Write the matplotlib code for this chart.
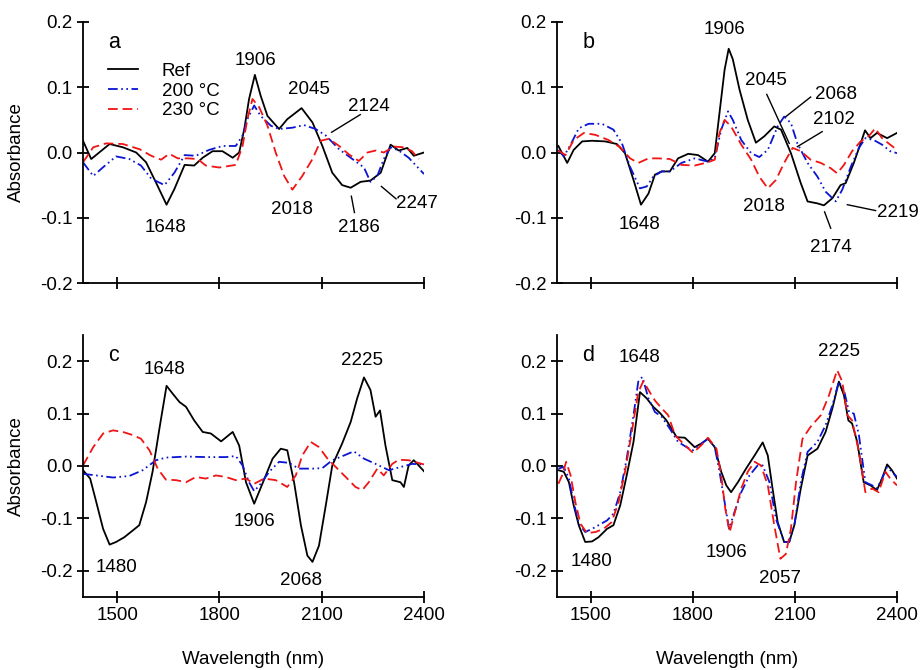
import matplotlib
matplotlib.use('Agg')
import matplotlib.pyplot as plt
from matplotlib.ticker import FormatStrFormatter

plt.rcParams['font.family'] = ['Liberation Sans', 'DejaVu Sans']
plt.rcParams['font.size'] = 13.5
plt.rcParams['lines.scale_dashes'] = False
plt.rcParams['lines.solid_joinstyle'] = 'round'
plt.rcParams['lines.dash_joinstyle'] = 'round'

labels = ['Ref', '200 °C', '230 °C']

# panel a
a_ref_x = [1400, 1424, 1478, 1517, 1556, 1585, 1614, 1645, 1668, 1698, 1726, 1751, 1780, 1809, 1839, 1858, 1873, 1887, 1904,
           1921, 1941, 1975, 1999, 2041, 2073, 2102, 2131, 2160, 2185, 2214, 2243, 2273, 2302, 2326, 2351, 2370, 2400]
a_ref_y = [0.018, -0.010, 0.013, 0.008, 0.0, -0.015, -0.046, -0.080, -0.056, -0.019, -0.020, -0.008, 0.002, 0.002, -0.008,
           0.0, 0.036, 0.082, 0.119, 0.087, 0.056, 0.036, 0.051, 0.068, 0.046, 0.010, -0.031, -0.050, -0.054, -0.045,
           -0.043, -0.031, 0.012, 0.003, 0.007, -0.005, 0.0]
a_200_x = [1400, 1430, 1458, 1497, 1536, 1570, 1600, 1639, 1668, 1698, 1731, 1770, 1809, 1848, 1868, 1882, 1902, 1921, 1951,
           1975, 2014, 2048, 2082, 2112, 2151, 2190, 2224, 2243, 2263, 2282, 2302, 2326, 2355, 2400]
a_200_y = [-0.015, -0.036, -0.023, -0.006, -0.010, -0.020, -0.040, -0.050, -0.031, -0.004, -0.005, 0.004, 0.010, 0.010,
           0.026, 0.051, 0.072, 0.056, 0.041, 0.036, 0.038, 0.042, 0.036, 0.026, 0.005, -0.010, -0.023, -0.045, -0.036,
           -0.010, 0.008, 0.003, -0.008, -0.033]
a_230_x = [1400, 1430, 1468, 1517, 1566, 1600, 1629, 1653, 1678, 1707, 1736, 1760, 1799, 1848, 1868, 1882, 1897, 1917, 1941,
           1965, 1990, 2014, 2043, 2073, 2097, 2121, 2151, 2180, 2209, 2234, 2258, 2282, 2312, 2341, 2365, 2385]
a_230_y = [-0.015, 0.008, 0.014, 0.013, 0.005, -0.005, -0.011, -0.002, -0.009, -0.009, -0.010, -0.020, -0.023, -0.019,
           0.010, 0.051, 0.082, 0.069, 0.041, 0.0, -0.036, -0.057, -0.036, -0.010, 0.018, 0.021, 0.010, -0.003, -0.013,
           0.0, 0.003, 0.0, 0.009, 0.008, 0.002, -0.010]

# panel b
b_ref_x = [1404, 1415, 1430, 1449, 1474, 1503, 1542, 1576, 1600, 1625, 1647, 1669, 1688, 1708, 1732, 1756, 1786, 1815, 1844,
           1864, 1878, 1893, 1905, 1917, 1937, 1961, 1985, 2010, 2039, 2059, 2088, 2117, 2137, 2166, 2185, 2210, 2234,
           2249, 2273, 2293, 2306, 2322, 2341, 2371, 2400]
b_ref_y = [0.010, -0.001, -0.016, 0.004, 0.017, 0.018, 0.017, 0.013, -0.001, -0.042, -0.080, -0.063, -0.034, -0.029,
           -0.029, -0.009, -0.002, -0.004, -0.014, -0.001, 0.061, 0.127, 0.159, 0.143, 0.096, 0.050, 0.015, 0.025, 0.040,
           0.035, -0.001, -0.047, -0.075, -0.078, -0.081, -0.070, -0.050, -0.047, -0.016, 0.014, 0.034, 0.022, 0.030,
           0.022, 0.030]
b_200_x = [1404, 1420, 1440, 1464, 1493, 1532, 1566, 1591, 1615, 1644, 1664, 1683, 1708, 1732, 1766, 1805, 1844, 1864, 1883,
           1903, 1917, 1942, 1971, 1995, 2020, 2049, 2068, 2088, 2107, 2137, 2166, 2190, 2220, 2239, 2264, 2288, 2307,
           2332, 2356, 2380, 2400]
b_200_y = [0.004, -0.006, 0.012, 0.037, 0.044, 0.044, 0.035, 0.014, -0.022, -0.055, -0.052, -0.037, -0.029, -0.029,
           -0.016, -0.009, -0.014, -0.009, 0.035, 0.063, 0.050, 0.019, -0.001, -0.007, 0.004, 0.040, 0.055, 0.045, 0.014,
           -0.016, -0.037, -0.060, -0.075, -0.057, -0.022, 0.007, 0.022, 0.019, 0.012, 0.002, -0.001]
b_230_x = [1404, 1425, 1449, 1479, 1513, 1552, 1586, 1615, 1639, 1669, 1698, 1732, 1766, 1805, 1844, 1864, 1878, 1893, 1912,
           1942, 1971, 1995, 2020, 2044, 2068, 2093, 2117, 2146, 2176, 2205, 2224, 2244, 2268, 2293, 2317, 2336, 2356,
           2380, 2400]
b_230_y = [0.003, -0.004, 0.019, 0.030, 0.027, 0.019, 0.008, -0.009, -0.016, -0.009, -0.009, -0.010, -0.019, -0.020,
           -0.015, -0.011, 0.030, 0.050, 0.040, 0.012, -0.011, -0.037, -0.055, -0.042, -0.016, 0.007, 0.002, -0.011,
           -0.016, -0.024, -0.032, -0.019, 0.002, 0.017, 0.025, 0.037, 0.022, 0.012, 0.004]

# panel c
c_ref_x = [1400, 1421, 1439, 1459, 1478, 1497, 1521, 1546, 1565, 1585, 1604, 1624, 1645, 1663, 1683, 1702, 1726, 1751, 1775,
           1805, 1839, 1858, 1878, 1902, 1926, 1956, 1980, 1999, 2019, 2039, 2058, 2073, 2092, 2112, 2131, 2160, 2185,
           2204, 2224, 2243, 2258, 2271, 2287, 2307, 2331, 2341, 2355, 2370, 2400]
c_ref_y = [-0.008, -0.024, -0.069, -0.120, -0.150, -0.145, -0.136, -0.123, -0.113, -0.069, -0.011, 0.071, 0.153, 0.138,
           0.122, 0.113, 0.087, 0.065, 0.062, 0.047, 0.065, 0.039, -0.031, -0.072, -0.034, 0.014, 0.033, 0.030, -0.031,
           -0.113, -0.171, -0.183, -0.152, -0.075, 0.001, 0.043, 0.084, 0.129, 0.169, 0.145, 0.094, 0.106, 0.039, -0.027,
           -0.031, -0.040, 0.001, 0.011, -0.010]
c_200_x = [1400, 1439, 1488, 1536, 1575, 1614, 1643, 1702, 1760, 1819, 1848, 1868, 1887, 1902, 1921, 1946, 1975, 2004, 2033,
           2073, 2102, 2131, 2165, 2194, 2224, 2258, 2297, 2331, 2365, 2400]
c_200_y = [-0.015, -0.018, -0.022, -0.019, -0.008, 0.011, 0.016, 0.018, 0.017, 0.017, 0.019, 0.001, -0.031, -0.048,
           -0.034, -0.011, 0.008, 0.006, -0.005, -0.005, -0.004, 0.011, 0.020, 0.028, 0.014, 0.004, -0.008, -0.002, 0.004,
           0.003]
c_230_x = [1400, 1430, 1459, 1488, 1517, 1546, 1570, 1595, 1619, 1643, 1673, 1702, 1731, 1760, 1790, 1819, 1848, 1878, 1902,
           1931, 1965, 1999, 2024, 2043, 2068, 2092, 2117, 2146, 2175, 2199, 2219, 2238, 2263, 2282, 2307, 2326, 2355,
           2400]
c_230_y = [0.001, 0.036, 0.062, 0.068, 0.065, 0.059, 0.052, 0.030, -0.005, -0.026, -0.027, -0.031, -0.021, -0.024, -0.018,
           -0.021, -0.027, -0.024, -0.034, -0.024, -0.027, -0.040, -0.018, 0.020, 0.046, 0.036, 0.014, -0.005, -0.024,
           -0.040, -0.046, -0.031, -0.005, -0.018, 0.004, 0.012, 0.011, 0.003]

# panel d
d_ref_x = [1404, 1420, 1435, 1449, 1464, 1483, 1503, 1522, 1547, 1566, 1586, 1605, 1625, 1644, 1664, 1683, 1703, 1722, 1752,
           1776, 1805, 1825, 1844, 1864, 1883, 1898, 1912, 1932, 1956, 1981, 2005, 2020, 2034, 2049, 2068, 2083, 2098,
           2117, 2137, 2166, 2190, 2210, 2229, 2244, 2257, 2268, 2283, 2302, 2322, 2341, 2356, 2371, 2385, 2400]
d_ref_y = [-0.008, -0.011, -0.031, -0.075, -0.113, -0.145, -0.144, -0.136, -0.120, -0.113, -0.075, -0.018, 0.046, 0.141,
           0.129, 0.113, 0.101, 0.087, 0.055, 0.054, 0.036, 0.043, 0.052, 0.036, -0.011, -0.037, -0.050, -0.031, -0.005,
           0.020, 0.045, 0.020, -0.043, -0.107, -0.145, -0.145, -0.113, -0.043, 0.020, 0.033, 0.065, 0.110, 0.161, 0.135,
           0.087, 0.081, 0.046, -0.031, -0.037, -0.046, -0.024, 0.003, -0.008, -0.024]
d_200_x = [1404, 1420, 1435, 1449, 1464, 1483, 1503, 1522, 1547, 1566, 1586, 1605, 1625, 1639, 1651, 1669, 1688, 1708, 1732,
           1756, 1781, 1800, 1825, 1844, 1864, 1878, 1893, 1906, 1922, 1942, 1966, 1990, 2005, 2025, 2044, 2068, 2083,
           2098, 2117, 2137, 2166, 2190, 2210, 2229, 2244, 2259, 2273, 2288, 2307, 2327, 2341, 2356, 2371, 2385, 2400]
d_200_y = [-0.005, -0.002, -0.024, -0.069, -0.110, -0.126, -0.120, -0.113, -0.104, -0.091, -0.050, 0.014, 0.097, 0.161,
           0.170, 0.129, 0.103, 0.094, 0.071, 0.046, 0.036, 0.030, 0.043, 0.052, 0.036, -0.011, -0.069, -0.120, -0.088,
           -0.050, -0.018, 0.001, 0.001, -0.031, -0.101, -0.145, -0.145, -0.113, -0.031, 0.027, 0.046, 0.078, 0.116,
           0.161, 0.145, 0.103, 0.100, 0.059, -0.031, -0.037, -0.043, -0.024, -0.002, -0.011, -0.021]
d_230_x = [1404, 1415, 1427, 1440, 1454, 1469, 1488, 1513, 1537, 1561, 1581, 1600, 1620, 1639, 1654, 1669, 1688, 1708, 1727,
           1747, 1771, 1800, 1825, 1844, 1869, 1883, 1895, 1908, 1922, 1942, 1961, 1981, 2000, 2020, 2039, 2057, 2073,
           2088, 2103, 2122, 2146, 2176, 2200, 2224, 2239, 2254, 2268, 2288, 2307, 2327, 2346, 2366, 2380, 2400]
d_230_y = [-0.034, -0.018, 0.008, -0.018, -0.069, -0.110, -0.128, -0.126, -0.120, -0.107, -0.069, -0.011, 0.065, 0.141,
           0.162, 0.145, 0.125, 0.110, 0.097, 0.059, 0.043, 0.025, 0.040, 0.054, 0.033, -0.018, -0.082, -0.126, -0.091,
           -0.043, -0.011, 0.008, 0.001, -0.037, -0.113, -0.177, -0.168, -0.120, -0.031, 0.052, 0.075, 0.097, 0.135,
           0.183, 0.161, 0.097, 0.087, 0.027, -0.050, -0.043, -0.050, -0.011, -0.024, -0.037]

# peak labels: (text, x, y)
a_peaks = [('1906', 1906, 0.141), ('2045', 2062, 0.097), ('2124', 2237, 0.071), ('2018', 2013, -0.088),
           ('2186', 2208, -0.115), ('2247', 2380, -0.078), ('1648', 1643, -0.115)]
b_peaks = [('1906', 1894, 0.189), ('2045', 2015, 0.111), ('2068', 2220, 0.089), ('2102', 2215, 0.050),
           ('2018', 2010, -0.083), ('2174', 2205, -0.145), ('2219', 2403, -0.092), ('1648', 1644, -0.111)]
c_peaks = [('1648', 1639, 0.185), ('2225', 2219, 0.202), ('1480', 1499, -0.193), ('1906', 1902, -0.106),
           ('2068', 2039, -0.218)]
d_peaks = [('1648', 1644, 0.208), ('2225', 2229, 0.218), ('1480', 1501, -0.182), ('1906', 1898, -0.166),
           ('2057', 2057, -0.214)]

# leader lines: ((x1, x2), (y1, y2))
a_leaders = [((2213, 2129), (0.058, 0.031)), ((2196, 2187), (-0.092, -0.067)), ((2318, 2275), (-0.071, -0.052))]
b_leaders = [((2017, 2083), (0.089, 0.014)), ((2146, 2073), (0.085, 0.055)), ((2180, 2107), (0.032, 0.009)),
             ((2205, 2187), (-0.116, -0.091)), ((2337, 2254), (-0.089, -0.080))]

styles = [dict(color='black', lw=1.3, ls='-'),
          dict(color='#0a14d2', lw=1.3, dashes=(7, 2.5, 1.2, 2.5, 1.2, 2.5)),
          dict(color='#f01414', lw=1.3, dashes=(7, 3.5))]

fig = plt.figure(figsize=(9.21, 6.70), dpi=100)
W, H = 921, 670


def make_ax(l, t, r, b):
    return fig.add_axes([l / W, 1 - b / H, (r - l) / W, (b - t) / H])


def panel(ax, series, peaks, leaders, letter, ylim, bottom):
    for (x, y), st, lab in zip(series, styles, labels):
        ax.plot(x, y, label=lab, **st)
    for xs, ys in leaders:
        ax.plot(xs, ys, color='black', lw=1.0)
    for s, x, y in peaks:
        ax.text(x, y, s, ha='center', va='center')
    ax.text(0.075, 0.92, letter, transform=ax.transAxes, ha='left', va='center', fontsize=15.5)
    ax.set_xlim(1400, 2400)
    ax.set_ylim(*ylim)
    ax.set_xticks([1500, 1800, 2100, 2400])
    ax.set_yticks([-0.2, -0.1, 0.0, 0.1, 0.2])
    ax.yaxis.set_major_formatter(FormatStrFormatter('%.1f'))
    for sp in ['top', 'right']:
        ax.spines[sp].set_visible(False)
    for sp in ['left', 'bottom']:
        ax.spines[sp].set_linewidth(1.3)
    ax.tick_params(direction='inout', length=9, width=1.3, labelsize=13.5, pad=3)
    if not bottom:
        ax.tick_params(axis='x', labelbottom=False)
    else:
        ax.set_xlabel('Wavelength (nm)')
        ax.xaxis.set_label_coords(0.5, -0.205)


ax_a = make_ax(83, 22, 424, 283)
panel(ax_a, [(a_ref_x, a_ref_y), (a_200_x, a_200_y), (a_230_x, a_230_y)], a_peaks, a_leaders, 'a', (-0.2, 0.2), False)
ax_a.set_ylabel('Absorbance')
ax_a.yaxis.set_label_coords(-0.17, 0.5)
ax_a.legend(frameon=False, loc='upper left', bbox_to_anchor=(0.074, 0.845), handlelength=1.6,
            handletextpad=1.25, labelspacing=0.15, borderpad=0, borderaxespad=0)

ax_b = make_ax(557, 22, 897, 283)
panel(ax_b, [(b_ref_x, b_ref_y), (b_200_x, b_200_y), (b_230_x, b_230_y)], b_peaks, b_leaders, 'b', (-0.2, 0.2), False)

ax_c = make_ax(83, 335, 424, 597)
panel(ax_c, [(c_ref_x, c_ref_y), (c_200_x, c_200_y), (c_230_x, c_230_y)], c_peaks, [], 'c', (-0.25, 0.25), True)
ax_c.set_ylabel('Absorbance')
ax_c.yaxis.set_label_coords(-0.17, 0.5)

ax_d = make_ax(557, 335, 897, 597)
panel(ax_d, [(d_ref_x, d_ref_y), (d_200_x, d_200_y), (d_230_x, d_230_y)], d_peaks, [], 'd', (-0.25, 0.25), True)

fig.savefig('out.png', dpi=100)
